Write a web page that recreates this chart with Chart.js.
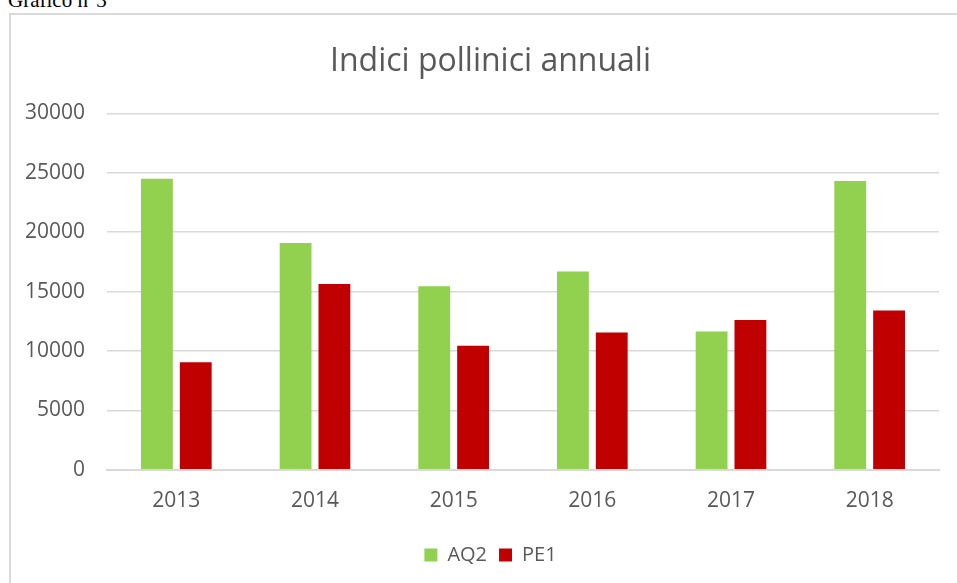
<!DOCTYPE html>
<html>
<head>
<meta charset="utf-8">
<script src="https://cdn.jsdelivr.net/npm/chart.js@4"></script>
<style>
    body { margin: 0; width: 957px; height: 583px; overflow: hidden; background: #fff; position: relative; }
    #caption { position: absolute; left: 8px; top: -10px; font: 21px "Liberation Serif", serif; line-height: 1; color: #000; }
    #frame { position: absolute; left: 9px; top: 13px; width: 970px; height: 600px; border: 2px solid #d9d9d9; }
    #wrap { position: absolute; left: 0; top: 0; width: 957px; height: 583px; }
</style>
</head>
<body>
<div id="caption">Grafico n°3</div>
<div id="frame"></div>
<div id="wrap"><canvas id="pollenChart"></canvas></div>
<script>
const years = ['2013', '2014', '2015', '2016', '2017', '2018'];
const aq2 = [24500, 19100, 15450, 16700, 11650, 24300];
const pe1 = [9050, 15650, 10450, 11550, 12600, 13400];
const yTicks = [0, 5000, 10000, 15000, 20000, 25000, 30000];

const font = '"Open Sans", sans-serif';
const grey = '#595959';

// the y labels sit partly in the left padding, so widen the axis box after layout
const widenYAxis = {
    id: 'widenYAxis',
    afterLayout(chart) { chart.scales.y.left = 0; }
};

const ctx = document.getElementById('pollenChart').getContext('2d');
new Chart(ctx, {
    type: 'bar',
    data: {
        labels: years,
        datasets: [
            { label: 'AQ2', data: aq2, backgroundColor: '#92d050', barPercentage: 0.82, categoryPercentage: 0.56 },
            { label: 'PE1', data: pe1, backgroundColor: '#c00000', barPercentage: 0.82, categoryPercentage: 0.56 }
        ]
    },
    options: {
        responsive: true,
        maintainAspectRatio: false,
        animation: false,
        layout: { padding: { left: 42, right: 18, top: 0, bottom: 8 } },
        scales: {
            x: {
                grid: { display: false, drawTicks: false },
                border: { color: '#d9d9d9', width: 2 },
                ticks: { color: grey, font: { family: font, size: 21 }, padding: 19 }
            },
            y: {
                min: 0,
                max: 30000,
                afterFit: s => { s.width = 65; },
                afterBuildTicks: s => { s.ticks = yTicks.map(v => ({ value: v })); },
                border: { display: false },
                grid: { color: '#d9d9d9', lineWidth: 1.5, drawTicks: false },
                ticks: { color: grey, font: { family: font, size: 21 }, padding: 22, callback: v => String(v) }
            }
        },
        plugins: {
            title: {
                display: true,
                text: 'Indici pollinici annuali',
                color: grey,
                font: { family: font, size: 32, weight: 'normal' },
                padding: { top: 43, bottom: 32 }
            },
            legend: {
                position: 'bottom',
                labels: { color: grey, font: { family: font, size: 20 }, boxWidth: 13, boxHeight: 13, padding: 12 }
            },
            tooltip: { enabled: false }
        }
    },
    plugins: [widenYAxis]
});
</script>
</body>
</html>
